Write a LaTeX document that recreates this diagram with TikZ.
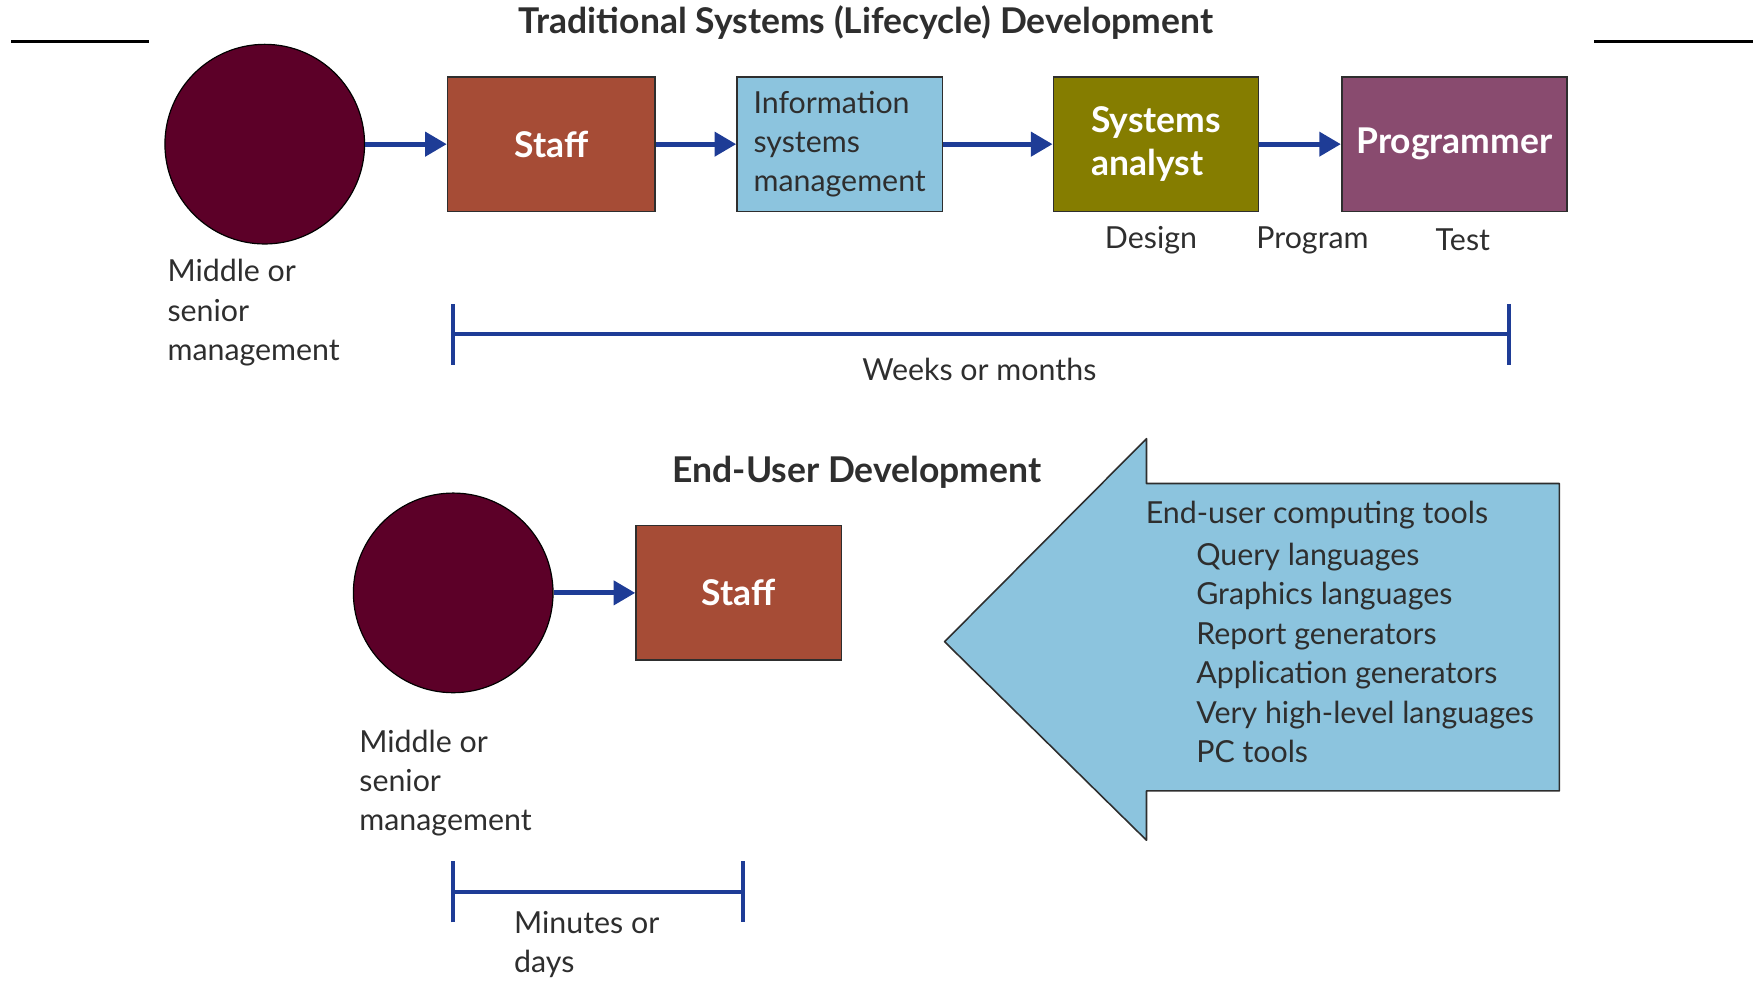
\documentclass[tikz,border=0pt]{standalone}
\usepackage{fontspec}
\setmainfont{Lato}
\usetikzlibrary{arrows.meta}
\definecolor{mgrred}{HTML}{5C0028}
\definecolor{staffred}{HTML}{A64C36}
\definecolor{infoblue}{HTML}{8CC4DE}
\definecolor{olive}{HTML}{857D00}
\definecolor{progpurple}{HTML}{894B6F}
\definecolor{flowblue}{HTML}{1E3C96}
\definecolor{textgray}{HTML}{2E2E2E}
\begin{document}
\begin{tikzpicture}[x=0.02cm,y=-0.02cm,
  txt/.style={text=textgray,font=\fontsize{15.4}{20}\selectfont,inner sep=0pt,align=left},
  heading/.style={text=textgray,font=\bfseries\fontsize{18}{21}\selectfont,inner sep=0pt},
  person/.style={circle,draw=black,line width=0.6pt,fill=mgrred,minimum size=3.56cm,inner sep=0pt},
  box/.style={draw=textgray,line width=0.8pt,minimum width=3.66cm,minimum height=2.4cm,inner sep=0pt},
  boxlbl/.style={text=white,font=\bfseries\fontsize{18}{21.5}\selectfont,align=left},
  flow/.style={draw=flowblue,line width=2.6pt,-{Triangle[length=11pt,width=12pt]}},
  span/.style={draw=flowblue,line width=2pt,{Bar[width=31pt]}-{Bar[width=31pt]}}]
\useasboundingbox (0,0) rectangle (1568,876);

\draw[line width=1.2pt] (10,37) -- (133,37);
\draw[line width=1.2pt] (1421,37) -- (1563,37);

% traditional
\node[heading] (title1) at (772,20) {Traditional Systems (Lifecycle) Development};
\node[person] (mgr1) at (236,128.5) {};
\node[box,fill=staffred,minimum width=3.7cm,boxlbl] (staff1) at (491.5,128.5) {Staff};
\node[box,fill=infoblue,txt] (ism) at (748.5,128.5) {Information\\systems\\management};
\node[box,fill=olive,boxlbl] (analyst) at (1030.5,128.5) {Systems\\analyst};
\node[box,fill=progpurple,minimum width=4.02cm,boxlbl] (prog) at (1296.5,128.5) {Programmer};

\draw[flow] (mgr1) -- (staff1);
\draw[flow] (staff1) -- (ism);
\draw[flow] (ism) -- (analyst);
\draw[flow] (analyst) -- (prog);

\node[txt] (design) at (1026,214) {Design};
\node[txt] (program) at (1170,214) {Program};
\node[txt] (test) at (1304,214) {Test};
\node[txt,anchor=west] (mgr1lbl) at (149,279) {Middle or\\senior\\management};

\coordinate (weeksl) at (402,298);
\coordinate (weeksr) at (1347,298);
\draw[span] (weeksl) -- (weeksr);
\node[txt] (weeks) at (873,329) {Weeks or months};

% end-user
\node[heading] (title2) at (764,421) {End-User Development};
\node[person] (mgr2) at (404,528.5) {};
\node[box,fill=staffred,boxlbl] (staff2) at (658.5,528.5) {Staff};
\draw[flow] (mgr2) -- (staff2);
\node[txt,anchor=west] (mgr2lbl) at (320,698) {Middle or\\senior\\management};

\coordinate (minl) at (402,795);
\coordinate (minr) at (664,795);
\draw[span] (minl) -- (minr);
\node[txt,anchor=west] (minutes) at (458,842) {Minutes or\\days};

\draw[draw=textgray,line width=0.8pt,fill=infoblue,line join=round]
  (842,572) -- (1022,391) -- (1022,431) -- (1390,431) -- (1390,705)
  -- (1022,705) -- (1022,749) -- cycle;
\node[txt,anchor=west] (tools) at (1021,459) {End-user computing tools};
\node[txt,anchor=west] (toollist) at (1066,582) {Query languages\\Graphics languages\\Report generators\\Application generators\\Very high-level languages\\PC tools};
\end{tikzpicture}
\end{document}
